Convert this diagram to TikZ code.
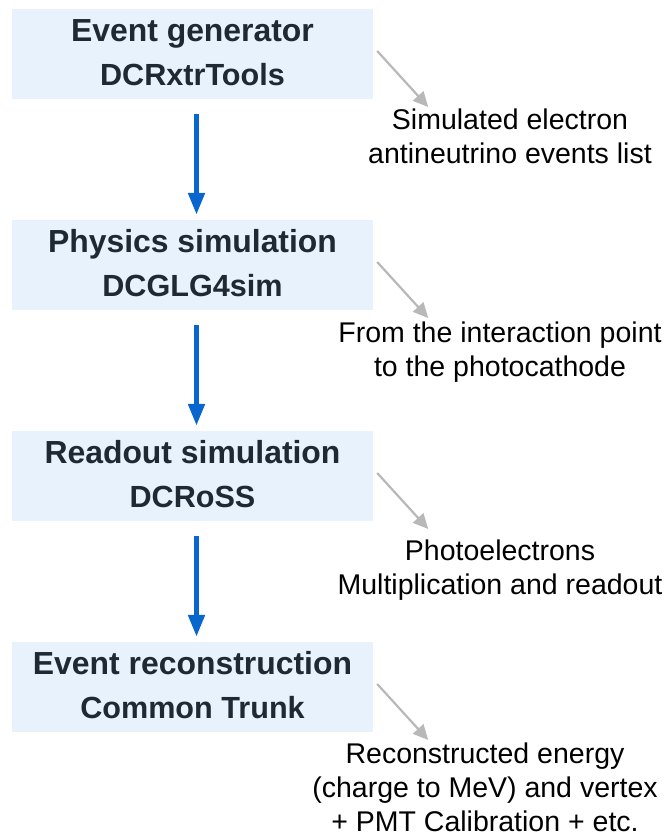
\documentclass[tikz,border=0pt]{standalone}
\usepackage{fontspec}
\setmainfont{Liberation Sans}
\usetikzlibrary{arrows.meta}
\definecolor{boxfill}{HTML}{E8F2FC}
\definecolor{titlecol}{HTML}{1F2933}
\definecolor{flowblue}{HTML}{0A66CF}
\definecolor{notegray}{HTML}{B8B8B8}
\tikzset{
  stagebox/.style={fill=boxfill, draw=none, minimum width=361pt, minimum height=90pt, inner sep=0pt},
  titleA/.style={anchor=base, inner sep=0pt, text=titlecol, font=\fontsize{31.9}{36}\selectfont\bfseries},
  titleB/.style={anchor=base, inner sep=0pt, text=titlecol, font=\fontsize{30.6}{36}\selectfont\bfseries},
  notetext/.style={align=center, inner sep=0pt, text=black, font=\fontsize{28.5}{34}\selectfont},
  flow/.style={draw=flowblue, line width=5pt, -{Triangle[width=16pt,length=22pt]}, shorten <=15pt, shorten >=5pt},
  pointer/.style={draw=notegray, line width=2.2pt, -{Triangle[width=14pt,length=15pt]}}
}
\begin{document}
\begin{tikzpicture}[x=1pt, y=-1pt]
\useasboundingbox (0,0) rectangle (667,837);
% stage boxes
\node[stagebox] (b1) at (192.5,54) {};
\node[stagebox] (b2) at (192.5,265) {};
\node[stagebox] (b3) at (192.5,476) {};
\node[stagebox] (b4) at (192.5,687) {};
% titles
\node[titleA] (b1t) at ([yshift=-33pt]b1.north) {Event generator};
\node[titleB] (b1s) at ([yshift=-77pt]b1.north) {DCRxtrTools};
\node[titleA] (b2t) at ([yshift=-33pt]b2.north) {Physics simulation};
\node[titleB] (b2s) at ([yshift=-77pt]b2.north) {DCGLG4sim};
\node[titleA] (b3t) at ([yshift=-33pt]b3.north) {Readout simulation};
\node[titleB] (b3s) at ([yshift=-77pt]b3.north) {DCRoSS};
\node[titleA] (b4t) at ([yshift=-33pt]b4.north) {Event reconstruction};
\node[titleB] (b4s) at ([yshift=-77pt]b4.north) {Common Trunk};
% notes
\node[notetext] (n1) at (510,136) {Simulated electron\\antineutrino events list};
\node[notetext] (n2) at (500,352) {From the interaction point\\to the photocathode};
\node[notetext] (n3) at (500,570) {Photoelectrons\\Multiplication and readout};
\node[notetext] (n4) at (485,787) {Reconstructed energy\\(charge to MeV) and vertex\\+ PMT Calibration + etc.};
% flow arrows
\draw[flow] ([xshift=4pt]b1.south) -- ([xshift=4pt]b2.north);
\draw[flow] ([xshift=4pt]b2.south) -- ([xshift=4pt]b3.north);
\draw[flow] ([xshift=4pt]b3.south) -- ([xshift=4pt]b4.north);
% pointers
\foreach \b in {b1,b2,b3,b4}{
  \coordinate (\b from) at ([shift={(4,-3)}]\b.east);
  \coordinate (\b to) at ([shift={(55,53)}]\b.east);
  \draw[pointer] (\b from) -- (\b to);
}
\end{tikzpicture}
\end{document}
